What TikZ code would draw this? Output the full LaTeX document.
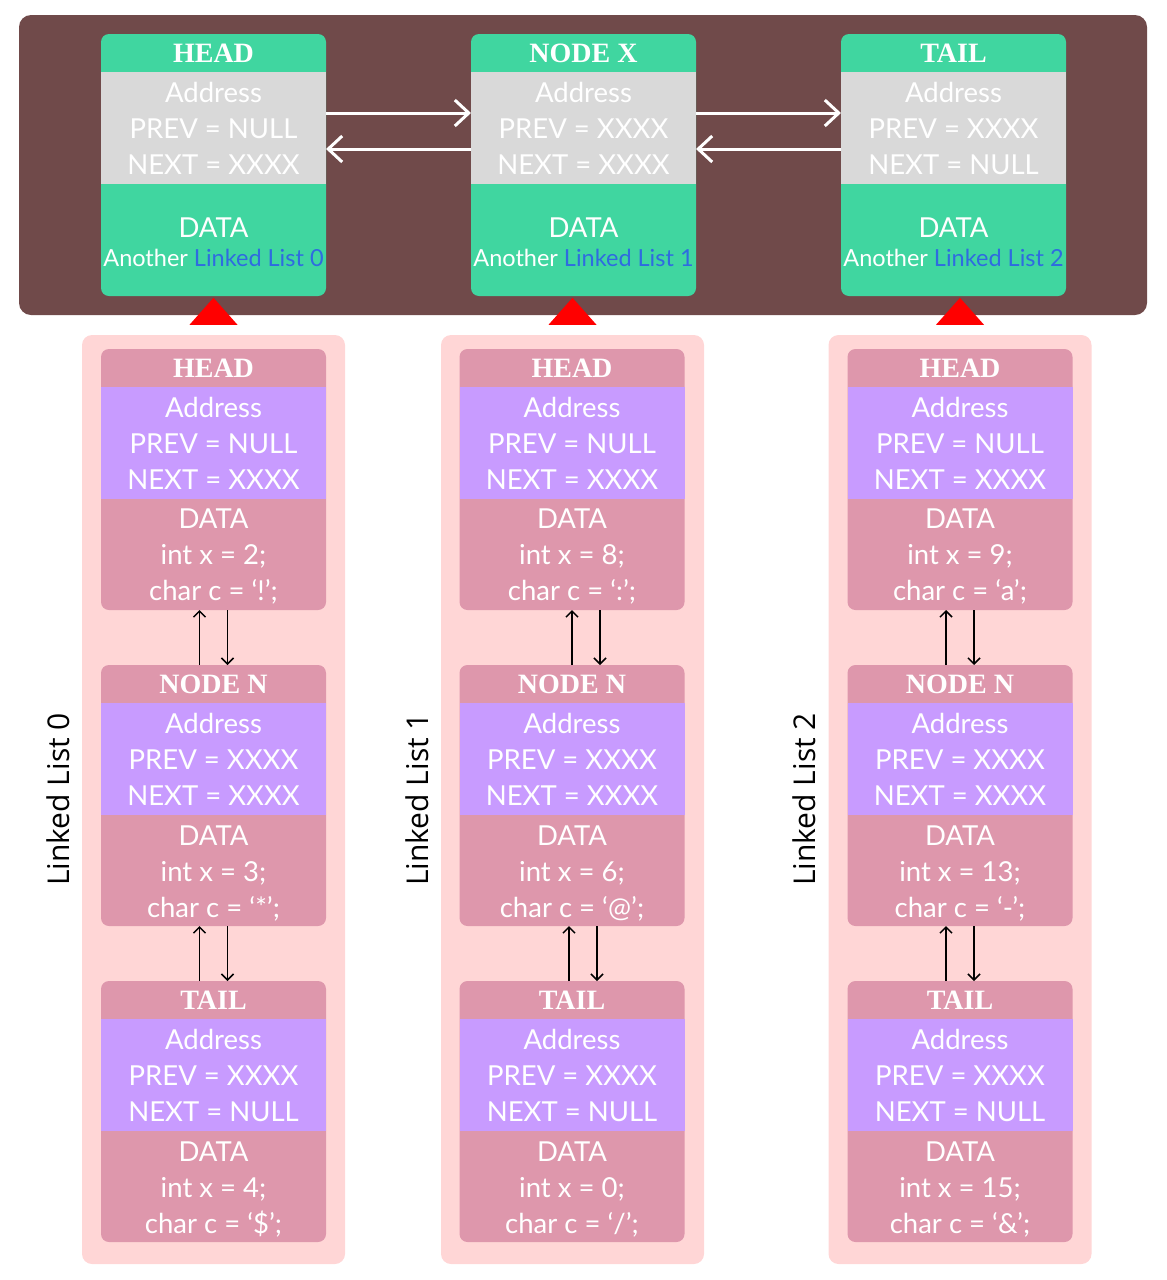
\documentclass[tikz,border=0pt]{standalone}
\usepackage{fontspec}
\setmainfont{Lato}
\newfontfamily\headfont{Liberation Serif}
\newfontfamily\sidefont{Open Sans}
\usepackage{tikz}
\usetikzlibrary{arrows.meta, positioning}

\definecolor{cocoa}{HTML}{704A4A}
\definecolor{mint}{HTML}{40D6A0}
\definecolor{ash}{HTML}{D9D9D9}
\definecolor{rose}{HTML}{DE97AC}
\definecolor{lilac}{HTML}{C89BFF}
\definecolor{blush}{HTML}{FFD6D6}
\definecolor{linkblue}{HTML}{2F6BE0}

% node of the top list: name, x, title, prev, next, list number
\newcommand{\topcell}[6]{%
  \node[cell, fill=mint, minimum height=262pt] (#1) at (#2,165) {};
  \node[band, fill=ash, below=38pt of #1.north] (#1a) {};
  \node[title] (#1h) at ([yshift=-19pt]#1.north) {#3};
  \node[txt] (#1b) at (#1a) {Address\\PREV = #4\\NEXT = #5};
  \node[txt] (#1c) at ([yshift=-194pt]#1.north) {DATA};
  \node[note] (#1d) at ([yshift=-224pt]#1.north) {Another \textcolor{linkblue}{Linked List #6}};
}

% node of a lower list: name, x, top, title, prev, next, int, char
\newcommand{\listcell}[8]{%
  \node[cell, fill=rose] (#1) at (#2,#3+130.5) {};
  \node[band, fill=lilac, below=38pt of #1.north] (#1a) {};
  \node[title] (#1h) at ([yshift=-19pt]#1.north) {#4};
  \node[txt] (#1b) at (#1a) {Address\\PREV = #5\\NEXT = #6};
  \node[txt] (#1c) at ([yshift=-208pt]#1.north) {DATA\\int x = #7;\\char c = ‘#8’;};
}

\begin{document}
\begin{tikzpicture}[
  x=1pt, y=-1pt,
  cell/.style={rounded corners=8pt, minimum width=225pt, minimum height=261pt, inner sep=0pt, outer sep=0pt},
  band/.style={minimum width=225pt, minimum height=112pt, inner sep=0pt, outer sep=0pt},
  title/.style={text=white, font=\headfont\bfseries\fontsize{28}{30}\selectfont, inner sep=0pt},
  txt/.style={text=white, align=center, font=\fontsize{27.5}{36}\selectfont, inner sep=0pt},
  note/.style={text=white, font=\fontsize{23.5}{26}\selectfont, inner sep=0pt},
  side/.style={rotate=90, font=\sidefont\fontsize{30}{34}\selectfont, inner sep=0pt},
  panel/.style={fill=blush, rounded corners=10pt, minimum width=263pt, minimum height=929pt, inner sep=0pt},
  link/.style={white, line width=3pt, -{Straight Barb[length=14pt, width=26pt]}},
  ptr/.style={black, line width=1.5pt, -{Straight Barb[length=6pt, width=12pt]}}
]
  \useasboundingbox (0,0) rectangle (1167,1280);

  % top list
  \node[fill=cocoa, rounded corners=12pt, minimum width=1128pt, minimum height=300pt, inner sep=0pt] (bg) at (583,165) {};
  \topcell{top0}{213.5}{HEAD}{NULL}{XXXX}{0}
  \topcell{top1}{583.5}{NODE X}{XXXX}{XXXX}{1}
  \topcell{top2}{953.5}{TAIL}{XXXX}{NULL}{2}

  \draw[link] ([yshift=15pt]top0a.east) -- ([yshift=15pt]top1a.west);
  \draw[link] ([yshift=-21pt]top1a.west) -- ([yshift=-21pt]top0a.east);
  \draw[link] ([yshift=15pt]top1a.east) -- ([yshift=15pt]top2a.west);
  \draw[link] ([yshift=-21pt]top2a.west) -- ([yshift=-21pt]top1a.east);

  % lower lists
  \foreach \k/\c in {0/213.5, 1/572.5, 2/960} {
    \node[panel] (p\k) at (\c,799.5) {};
    \fill[red] ([yshift=37pt]p\k.north) -- ++(-24,27) -- ++(48,0) -- cycle;
    \node[side] (lab\k) at ([xshift=-24pt]p\k.west) {Linked List \k};
  }

  \listcell{l0h}{213.5}{349}{HEAD}{NULL}{XXXX}{2}{!}
  \listcell{l0n}{213.5}{665}{NODE N}{XXXX}{XXXX}{3}{*}
  \listcell{l0t}{213.5}{981}{TAIL}{XXXX}{NULL}{4}{\$}
  \listcell{l1h}{572}{349}{HEAD}{NULL}{XXXX}{8}{:}
  \listcell{l1n}{572}{665}{NODE N}{XXXX}{XXXX}{6}{@}
  \listcell{l1t}{572}{981}{TAIL}{XXXX}{NULL}{0}{/}
  \listcell{l2h}{960}{349}{HEAD}{NULL}{XXXX}{9}{a}
  \listcell{l2n}{960}{665}{NODE N}{XXXX}{XXXX}{13}{-}
  \listcell{l2t}{960}{981}{TAIL}{XXXX}{NULL}{15}{\&}

  \foreach \u/\l/\a/\b in {l0h/l0n/-14/14, l0n/l0t/-14/14, l1h/l1n/0/28, l1n/l1t/-3/25, l2h/l2n/-14/14, l2n/l2t/-14/14} {
    \draw[ptr] ([xshift=\a pt]\l.north) -- ([xshift=\a pt]\u.south);
    \draw[ptr] ([xshift=\b pt]\u.south) -- ([xshift=\b pt]\l.north);
  }
\end{tikzpicture}
\end{document}
